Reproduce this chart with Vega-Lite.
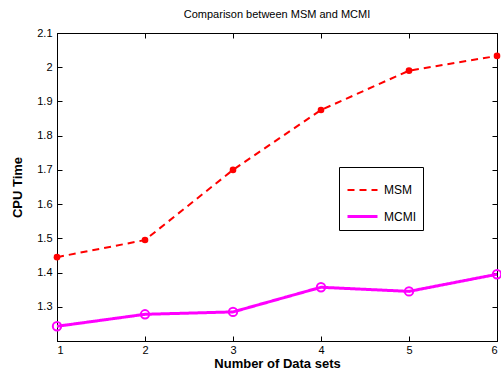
{
  "$schema": "https://vega.github.io/schema/vega-lite/v6.json",
  "width": 440,
  "height": 308,
  "autosize": {"type": "none"},
  "padding": {"left": 57, "top": 33, "right": 4, "bottom": 31},
  "background": "white",
  "title": {"text": "Comparison between MSM and MCMI", "fontSize": 11, "fontWeight": "normal", "font": "Liberation Sans", "color": "black", "offset": 7},
  "config": {
    "view": {"stroke": "black", "strokeWidth": 1},
    "font": "Liberation Sans",
    "axis": {"grid": false, "domainColor": "black", "tickColor": "black", "labelColor": "black", "titleColor": "black", "labelFontSize": 11, "titleFontSize": 13, "titleFontWeight": "bold", "tickSize": -5, "labelFont": "Liberation Sans", "titleFont": "Liberation Sans"}
  },
  "data": {"values": [
    {"x": 1, "series": "MSM", "y": 1.445},
    {"x": 2, "series": "MSM", "y": 1.495},
    {"x": 3, "series": "MSM", "y": 1.70},
    {"x": 4, "series": "MSM", "y": 1.875},
    {"x": 5, "series": "MSM", "y": 1.99},
    {"x": 6, "series": "MSM", "y": 2.033},
    {"x": 1, "series": "MCMI", "y": 1.243},
    {"x": 2, "series": "MCMI", "y": 1.278},
    {"x": 3, "series": "MCMI", "y": 1.285},
    {"x": 4, "series": "MCMI", "y": 1.357},
    {"x": 5, "series": "MCMI", "y": 1.345},
    {"x": 6, "series": "MCMI", "y": 1.395}
  ]},
  "layer": [
    {
      "mark": {"type": "line"},
      "encoding": {
        "x": {"field": "x", "type": "quantitative", "scale": {"domain": [1, 6], "nice": false, "zero": false}, "axis": {"title": "Number of Data sets", "values": [1, 2, 3, 4, 5, 6], "format": "~g", "labelPadding": 8, "titlePadding": 2}},
        "y": {"field": "y", "type": "quantitative", "scale": {"domain": [1.2, 2.1], "nice": false, "zero": false}, "axis": {"title": "CPU Time", "values": [1.3, 1.4, 1.5, 1.6, 1.7, 1.8, 1.9, 2, 2.1], "format": "~g", "labelPadding": 10, "titlePadding": 12}},
        "color": {"field": "series", "type": "nominal", "scale": {"domain": ["MSM", "MCMI"], "range": ["#ff0000", "#ff00ff"]},
          "legend": {"orient": "none", "legendX": 282, "legendY": 134, "title": null, "symbolSize": 900, "symbolStrokeWidth": 2.5, "strokeColor": "black", "fillColor": "white", "padding": 7, "labelFontSize": 12, "labelColor": "black", "labelFont": "Liberation Sans", "rowPadding": 4, "labelOffset": 5}},
        "strokeDash": {"field": "series", "type": "nominal", "scale": {"domain": ["MSM", "MCMI"], "range": [[7, 5], [1, 0]]},
          "legend": {"orient": "none", "legendX": 282, "legendY": 134, "title": null, "symbolSize": 900, "symbolStrokeWidth": 2.5, "strokeColor": "black", "fillColor": "white", "padding": 7, "labelFontSize": 12, "labelColor": "black", "labelFont": "Liberation Sans", "rowPadding": 4, "labelOffset": 5}},
        "strokeWidth": {"field": "series", "type": "nominal", "scale": {"domain": ["MSM", "MCMI"], "range": [2, 3]}, "legend": null}
      }
    },
    {
      "transform": [{"filter": "datum.series === 'MSM'"}],
      "mark": {"type": "point", "opacity": 1, "filled": true, "color": "#ff0000", "size": 44},
      "encoding": {
        "x": {"field": "x", "type": "quantitative", "axis": {"orient": "top", "labels": false, "title": null, "values": [1, 2, 3, 4, 5, 6]}},
        "y": {"field": "y", "type": "quantitative", "axis": {"orient": "right", "labels": false, "title": null, "values": [1.3, 1.4, 1.5, 1.6, 1.7, 1.8, 1.9, 2, 2.1]}}
      }
    },
    {
      "transform": [{"filter": "datum.series === 'MCMI'"}],
      "mark": {"type": "point", "opacity": 1, "filled": false, "color": "#ff00ff", "strokeWidth": 2, "size": 70},
      "encoding": {
        "x": {"field": "x", "type": "quantitative", "axis": null},
        "y": {"field": "y", "type": "quantitative", "axis": null}
      }
    }
  ],
  "resolve": {"axis": {"x": "independent", "y": "independent"}}
}
